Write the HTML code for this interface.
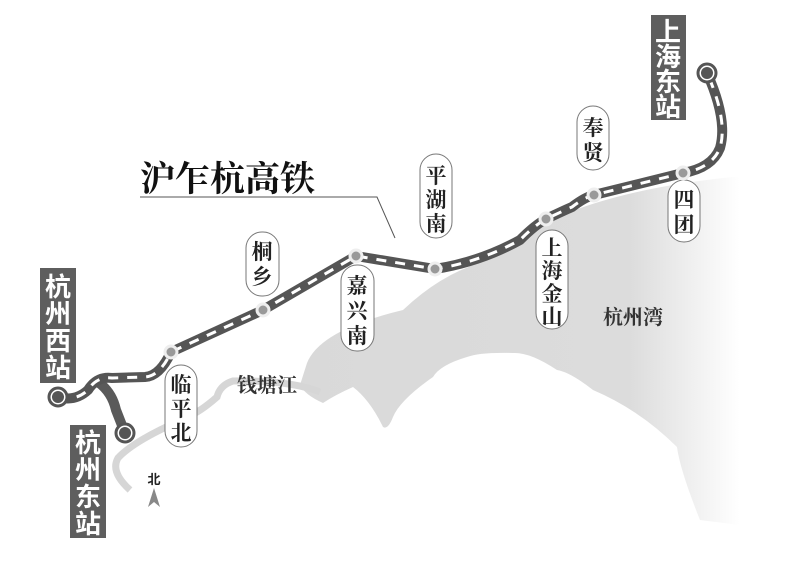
<!DOCTYPE html>
<html><head><meta charset="utf-8"><style>
html,body{margin:0;padding:0;background:#fff;}
svg{display:block;}
.s{font-family:"Liberation Serif","Noto Serif CJK SC",serif;}
.b{font-family:"Liberation Sans","Noto Sans CJK SC",sans-serif;font-weight:bold;}
</style></head><body>
<svg width="787" height="567" viewBox="0 0 787 567" xmlns="http://www.w3.org/2000/svg">
<defs>
<linearGradient id="g" x1="0" x2="1" y1="0" y2="0">
<stop offset="0" stop-color="#d9d9d9"/><stop offset="0.75" stop-color="#dcdcdc"/><stop offset="1" stop-color="#ffffff"/>
</linearGradient>
</defs>
<path d="M307,363 Q320,330 403,310 Q440,275 480,263 Q500,243 567,213 Q633,187 733,177 L740,177 L740,525 L700,520 Q680,470 677,447 Q640,410 593,390 Q570,372 557,370 Q530,352 513,353 Q480,352 467,357 Q440,365 433,377 Q400,400 393,417 Q388,430 383,427 Q370,400 353,387 Q335,395 323,403 Q305,395 300,385 Z" fill="url(#g)"/>
<path d="M320,392 Q290,380 233,381 Q220,385 217,397 Q200,412 187,417 Q170,425 160,430 Q130,445 118,458 Q110,472 130,490" fill="none" stroke="#d6d6d6" stroke-width="7"/>
<g fill="#fff" stroke="#777" stroke-width="1">
<rect x="246" y="232" width="33" height="64" rx="16"/>
<rect x="165" y="365" width="32" height="82" rx="16"/>
<rect x="341" y="265" width="33" height="86" rx="16"/>
<rect x="420" y="154" width="32" height="84" rx="16"/>
<rect x="536" y="230" width="32" height="99" rx="16"/>
<rect x="577" y="106" width="32" height="64" rx="16"/>
<rect x="668" y="180" width="32" height="62" rx="16"/>
</g>
<g class="s" font-size="21" font-weight="bold" fill="#222" text-anchor="middle">
<text x="262" y="259">桐</text><text x="262" y="284">乡</text>
<text x="181" y="392">临</text><text x="181" y="416">平</text><text x="181" y="440">北</text>
<text x="357" y="293">嘉</text><text x="357" y="318">兴</text><text x="357" y="343">南</text>
<text x="436" y="183">平</text><text x="436" y="207">湖</text><text x="436" y="231">南</text>
<text x="552" y="255">上</text><text x="552" y="278">海</text><text x="552" y="301">金</text><text x="552" y="324">山</text>
<text x="593" y="135">奉</text><text x="593" y="160">贤</text>
<text x="684" y="207">四</text><text x="684" y="232">团</text>
</g>
<path d="M98,382 Q112,392 116,410 L125,433" fill="none" stroke="#5a5a5a" stroke-width="10" stroke-linecap="round"/>
<path d="M58,397 Q75,402 88,390 Q97,376 112,378 L145,377 Q160,376 171,352 L263,310 L356,256 L435,269 Q480,262 520,240 Q535,225 546,219 Q565,210 572,207 Q585,197 594,195 L683,173 Q712,168 720,148 Q728,120 707,73" fill="none" stroke="#555" stroke-width="10" stroke-linejoin="round"/>
<path d="M58,397 Q75,402 88,390 Q97,376 112,378 L145,377 Q160,376 171,352 L263,310 L356,256 L435,269 Q480,262 520,240 Q535,225 546,219 Q565,210 572,207 Q585,197 594,195 L683,173 Q712,168 720,148 Q728,120 707,73" fill="none" stroke="#fff" stroke-width="3" stroke-dasharray="10 9"/>
<g stroke="#555" stroke-width="3">
<circle cx="58" cy="397" r="9" fill="#fff"/><circle cx="125" cy="433" r="9" fill="#fff"/><circle cx="707" cy="73" r="9" fill="#fff"/>
</g>
<circle cx="58" cy="397" r="6" fill="#555"/><circle cx="125" cy="433" r="6" fill="#555"/><circle cx="707" cy="73" r="6" fill="#555"/>
<g fill="#999" stroke="#eee" stroke-width="3">
<circle cx="171" cy="352" r="6"/><circle cx="263" cy="310" r="6"/><circle cx="356" cy="256" r="6"/><circle cx="435" cy="269" r="6"/><circle cx="546" cy="219" r="6"/><circle cx="594" cy="195" r="6"/><circle cx="683" cy="173" r="6"/>
</g>
<g fill="#5e5e5e">
<rect x="40" y="268" width="36" height="115"/><rect x="70" y="425" width="36" height="113"/><rect x="651" y="15" width="35" height="105"/>
</g>
<g class="b" font-size="26" fill="#fff" text-anchor="middle">
<text x="58" y="296">杭</text><text x="58" y="323">州</text><text x="58" y="350">西</text><text x="58" y="377">站</text>
<text x="88" y="452">杭</text><text x="88" y="479">州</text><text x="88" y="506">东</text><text x="88" y="533">站</text>
<text x="668" y="41">上</text><text x="668" y="66">海</text><text x="668" y="91">东</text><text x="668" y="116">站</text>
</g>
<text class="s" x="140" y="191" font-size="35" font-weight="bold" fill="#111">沪乍杭高铁</text>
<path d="M140,197 L377,197 L395,238" fill="none" stroke="#555" stroke-width="1"/>
<text class="s" x="237" y="392" font-size="20" font-weight="bold" fill="#333">钱塘江</text>
<text class="s" x="603" y="324" font-size="20" font-weight="bold" fill="#333">杭州湾</text>
<text class="b" x="154" y="484" font-size="13" fill="#222" text-anchor="middle">北</text>
<path d="M154,488 L148,507 L154,502 L160,507 Z" fill="#888"/>
</svg>
</body></html>
